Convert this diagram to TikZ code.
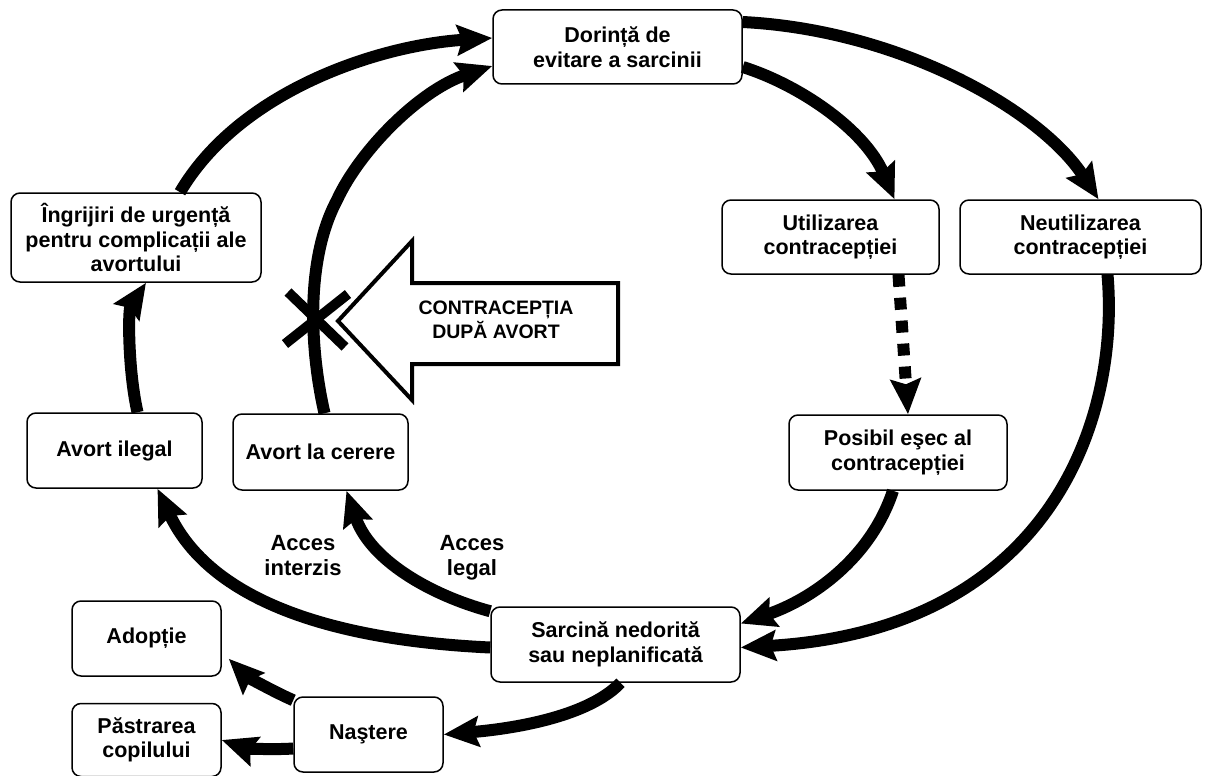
\documentclass[tikz,border=0pt]{standalone}
\usepackage{fontspec}
\setmainfont{Liberation Sans}
\usetikzlibrary{arrows.meta}
\begin{document}
\begin{tikzpicture}[x=1pt,y=-1pt,
  box/.style={draw, line width=1.5pt, rounded corners=9pt, fill=white, align=center,
    inner sep=0pt, font=\bfseries\fontsize{21.5}{24.5}\selectfont},
  conn/.style={line width=12pt, -{Stealth[length=35pt,width=30pt,inset=5pt]}},
  lbl/.style={align=center, font=\bfseries\fontsize{22}{25}\selectfont}]
\useasboundingbox (0,0) rectangle (1221,776);
% nodes
\node[box, minimum width=249pt, minimum height=74pt] (dor) at (617.5,47) {Dorință de\\evitare a sarcinii};
\node[box, minimum width=250pt, minimum height=89pt] (ing) at (136,237.5) {Îngrijiri de urgență\\pentru complicații ale\\avortului};
\node[box, minimum width=217pt, minimum height=74pt] (util) at (830.5,237) {Utilizarea\\contracepției};
\node[box, minimum width=241pt, minimum height=74pt] (neut) at (1080.5,237) {Neutilizarea\\contracepției};
\node[box, minimum width=218pt, minimum height=75pt] (pos) at (898,452.5) {Posibil eşec al\\contracepției};
\node[box, minimum width=175pt, minimum height=75pt] (ileg) at (114.5,450.5) {Avort ilegal};
\node[box, minimum width=175pt, minimum height=76pt] (cer) at (320.5,452) {Avort la cerere};
\node[box, minimum width=249pt, minimum height=75pt] (sar) at (615.5,644.5) {Sarcină nedorită\\sau neplanificată};
\node[box, minimum width=149pt, minimum height=75pt] (nas) at (368.5,734.5) {Naştere};
\node[box, minimum width=149pt, minimum height=75pt] (adop) at (146.5,638.5) {Adopție};
\node[box, minimum width=149pt, minimum height=73pt] (past) at (146.5,740) {Păstrarea\\copilului};
% connectors
\draw[conn] ([xshift=44pt]ing.north) .. controls (240,90) and (380,45) .. ([yshift=9pt]dor.west);
\draw[conn] ([xshift=4pt]cer.north) .. controls (310,350) and (305,260) .. (337,200)
   .. controls (360,150) and (420,90) .. ([yshift=-19pt]dor.west);
\draw[conn] ([xshift=23pt]ileg.north) .. controls (128,370) and (128,310) .. ([xshift=10pt]ing.south);
\draw[conn] ([yshift=-3pt]sar.west) .. controls (330,640) and (210,600) .. ([xshift=43pt]ileg.south);
\draw[conn] ([yshift=-5pt]sar.north west) .. controls (430,595) and (370,560) .. ([xshift=26pt]cer.south);
\draw[conn] ([yshift=-20pt]dor.east) .. controls (800,85) and (865,130) .. ([xshift=64pt]util.north);
\draw[conn] ([yshift=25pt]dor.east) .. controls (900,30) and (1040,110) .. ([xshift=18pt]neut.north);
\draw[conn, dash pattern=on 12pt off 11pt] ([xshift=68pt]util.south) -- ([xshift=10pt]pos.north);
\draw[conn] ([xshift=-5pt]pos.south) .. controls (870,560) and (810,600) .. ([yshift=21pt]sar.east);
\draw[conn] ([xshift=27pt]neut.south) .. controls (1120,420) and (1050,630) .. ([yshift=-3pt]sar.east);
\draw[conn] ([xshift=5pt]sar.south) .. controls (590,715) and (520,728) .. (nas.east);
\draw[conn] ([yshift=-4pt]nas.north west) .. controls (270,690) and (245,675) .. ([xshift=7pt,yshift=18pt]adop.south east);
\draw[conn] ([yshift=-14pt]nas.west) .. controls (270,750) and (245,748) .. (past.east);
% labels
\node[lbl] (lint) at (303,556) {Acces\\interzis};
\node[lbl] (lleg) at (472,558) {Acces\\legal};
% big arrow
\draw[line width=4pt, fill=white, line join=miter] (338,321) -- (412,241) -- (412,283) -- (618,283)
   -- (618,364) -- (412,364) -- (412,400) -- cycle;
\node[align=center, font=\bfseries\fontsize{19.5}{24}\selectfont] (bigtxt) at (496,320) {CONTRACEPȚIA\\DUPĂ AVORT};
% cross
\draw[line width=10pt] (288,292) -- (345,347);
\draw[line width=10pt] (348,294) -- (285,344);
\end{tikzpicture}
\end{document}
